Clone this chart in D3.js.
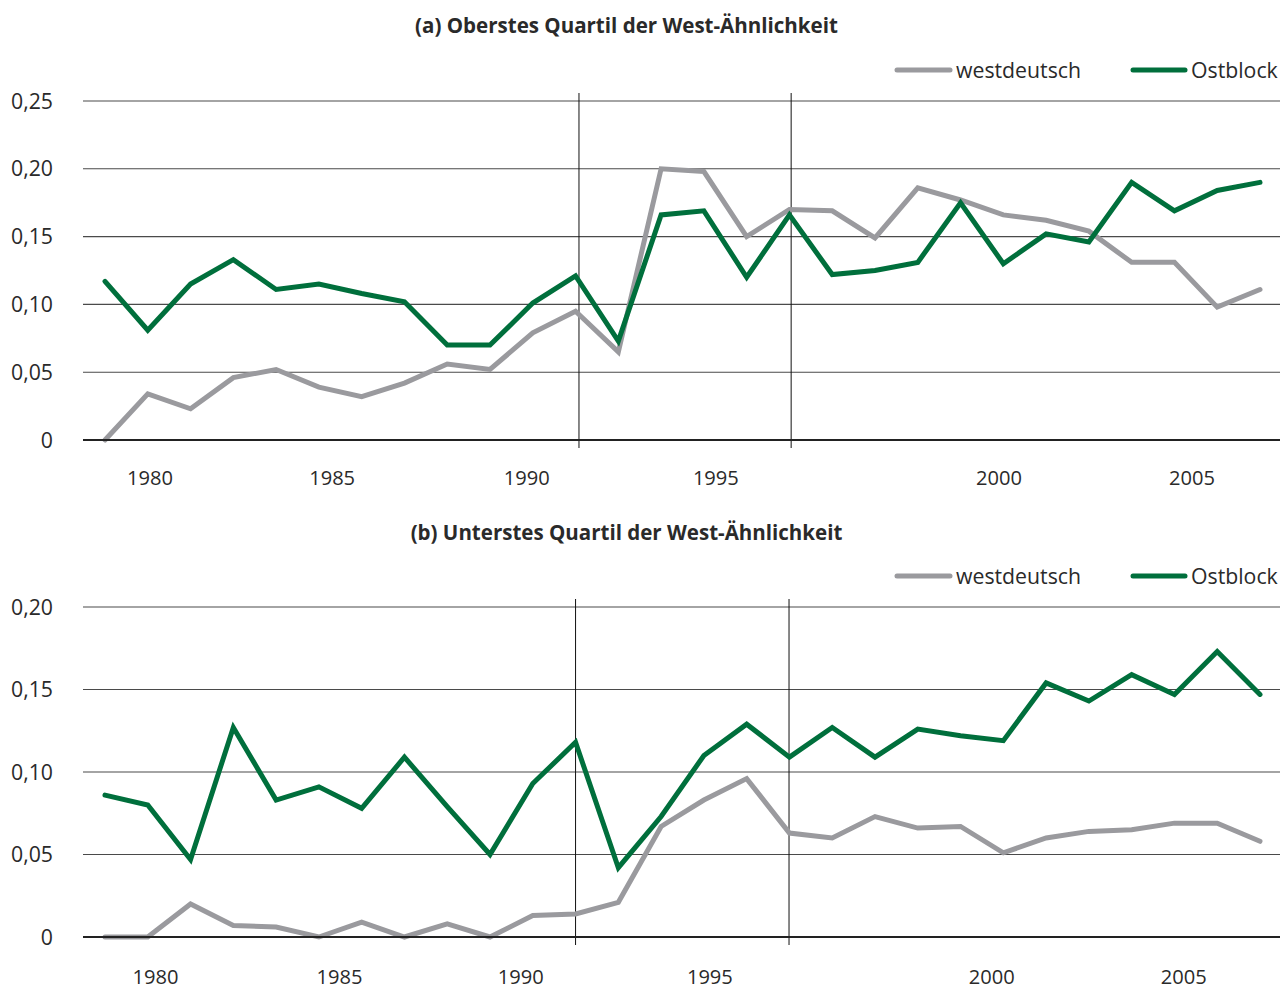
<!DOCTYPE html>
<html>
<head>
<meta charset="utf-8">
<script src="https://cdn.jsdelivr.net/npm/d3@7"></script>
<style>
  html, body { margin: 0; padding: 0; background: #fff; }
  svg { display: block; font-family: "Open Sans", "Noto Sans", sans-serif; }
</style>
</head>
<body>
<svg id="chart" width="1282" height="991"></svg>
<script>
// ---------- data ----------
const seriesNames = ["westdeutsch", "Ostblock"];
const tickLabels = ["1980", "1985", "1990", "1995", "2000", "2005"];

// Panel (a): Oberstes Quartil der West-Ähnlichkeit (28 waves)
const topWest = [0.000, 0.034, 0.023, 0.046, 0.052, 0.039, 0.032, 0.042, 0.056, 0.052,
                 0.079, 0.095, 0.065, 0.200, 0.198, 0.150, 0.170, 0.169, 0.149, 0.186,
                 0.177, 0.166, 0.162, 0.154, 0.131, 0.131, 0.098, 0.111];
const topEast = [0.117, 0.081, 0.115, 0.133, 0.111, 0.115, 0.108, 0.102, 0.070, 0.070,
                 0.101, 0.121, 0.073, 0.166, 0.169, 0.120, 0.166, 0.122, 0.125, 0.131,
                 0.175, 0.130, 0.152, 0.146, 0.190, 0.169, 0.184, 0.190];
// Panel (b): Unterstes Quartil der West-Ähnlichkeit
const botWest = [0.000, 0.000, 0.020, 0.007, 0.006, 0.000, 0.009, 0.000, 0.008, 0.000,
                 0.013, 0.014, 0.021, 0.067, 0.083, 0.096, 0.063, 0.060, 0.073, 0.066,
                 0.067, 0.051, 0.060, 0.064, 0.065, 0.069, 0.069, 0.058];
const botEast = [0.086, 0.080, 0.047, 0.127, 0.083, 0.091, 0.078, 0.109, 0.079, 0.050,
                 0.093, 0.118, 0.042, 0.073, 0.110, 0.129, 0.109, 0.127, 0.109, 0.126,
                 0.122, 0.119, 0.154, 0.143, 0.159, 0.147, 0.173, 0.147];

// tick label and marker-line positions in wave-index units
const topTickPos = [1.05, 5.31, 9.86, 14.28, 20.90, 25.41];
const botTickPos = [1.18, 5.48, 9.72, 14.14, 20.73, 25.22];
const topMarkers = [11.08, 16.04];
const botMarkers = [11.0, 15.99];

const topYTicks = [0, 0.05, 0.10, 0.15, 0.20, 0.25];
const botYTicks = [0, 0.05, 0.10, 0.15, 0.20];

// ---------- drawing ----------
const svg = d3.select("#chart");
const colors = { westdeutsch: "#9a9a9e", Ostblock: "#006f3c" };
const textColor = "#2a2a2a";
const de = d3.formatLocale({ decimal: ",", thousands: ".", grouping: [3], currency: ["", " €"] });
const fmt = d => d === 0 ? "0" : de.format(".2f")(d);

const x = d3.scaleLinear().domain([0, 27]).range([105, 1260]);
const gridX0 = 83, gridX1 = 1280;

// scale a font size so that a reference text gets a given width
function fitSize(text, weight, targetWidth) {
  const t = svg.append("text").attr("font-size", 20).attr("font-weight", weight).text(text);
  const w = t.node().getComputedTextLength();
  t.remove();
  return 20 * targetWidth / w;
}
const labelSize = fitSize("1980", "normal", 46);
const yLabelSize = fitSize("0,25", "normal", 42);
const legendSize = fitSize("westdeutsch", "normal", 125);

function panel(cfg) {
  const g = svg.append("g");
  const y = d3.scaleLinear().domain([0, cfg.yMax]).range([cfg.y0, cfg.y1]);

  // title
  g.append("text").attr("x", 626.5).attr("y", cfg.titleY)
    .attr("text-anchor", "middle").attr("font-weight", "bold")
    .attr("font-size", fitSize(cfg.title, "bold", cfg.titleWidth))
    .attr("fill", textColor).text(cfg.title);

  // gridlines
  g.selectAll("line.grid").data(cfg.yTicks.filter(d => d > 0)).join("line")
    .attr("class", "grid")
    .attr("x1", gridX0).attr("x2", gridX1)
    .attr("y1", d => y(d)).attr("y2", d => y(d))
    .attr("stroke", "#4a4a4a").attr("stroke-width", 1.1);

  // y labels
  g.selectAll("text.yl").data(cfg.yTicks).join("text")
    .attr("class", "yl")
    .attr("x", 53).attr("y", d => y(d)).attr("dy", "0.36em")
    .attr("text-anchor", "end").attr("font-size", yLabelSize).attr("fill", textColor)
    .text(fmt);

  // marker vertical lines
  g.selectAll("line.mk").data(cfg.markers).join("line")
    .attr("class", "mk")
    .attr("x1", d => x(d)).attr("x2", d => x(d))
    .attr("y1", y(cfg.yMax) - 8).attr("y2", y(0) + 8)
    .attr("stroke", "#111").attr("stroke-width", 1);

  // x labels
  g.selectAll("text.xl").data(tickLabels).join("text")
    .attr("class", "xl")
    .attr("x", (d, i) => x(cfg.tickPos[i])).attr("y", y(0) + cfg.labelOffset)
    .attr("text-anchor", "middle").attr("font-size", labelSize).attr("fill", textColor)
    .text(d => d);

  // lines
  const line = d3.line().x((d, i) => x(i)).y(d => y(d)).curve(d3.curveLinear);
  const series = [
    { name: "westdeutsch", values: cfg.west },
    { name: "Ostblock", values: cfg.east }
  ];
  g.selectAll("path.series").data(series).join("path")
    .attr("class", "series")
    .attr("d", d => line(d.values))
    .attr("fill", "none")
    .attr("stroke", d => colors[d.name])
    .attr("stroke-width", 5)
    .attr("stroke-linejoin", "miter")
    .attr("stroke-linecap", "round");

  // baseline (zero axis)
  g.append("line")
    .attr("x1", gridX0).attr("x2", gridX1)
    .attr("y1", y(0)).attr("y2", y(0))
    .attr("stroke", "#222").attr("stroke-width", 2);

  // legend
  const leg = [
    { name: "westdeutsch", x0: 897, x1: 950, tx: 956 },
    { name: "Ostblock", x0: 1133, x1: 1185, tx: 1191 }
  ];
  const lg = g.selectAll("g.leg").data(leg).join("g").attr("class", "leg");
  lg.append("line")
    .attr("x1", d => d.x0).attr("x2", d => d.x1)
    .attr("y1", cfg.legendY).attr("y2", cfg.legendY)
    .attr("stroke", d => colors[d.name]).attr("stroke-width", 5)
    .attr("stroke-linecap", "round");
  lg.append("text")
    .attr("x", d => d.tx).attr("y", cfg.legendY).attr("dy", "0.36em")
    .attr("font-size", legendSize).attr("fill", textColor)
    .text(d => d.name);
}

panel({
  title: "(a) Oberstes Quartil der West-Ähnlichkeit", titleWidth: 423,
  titleY: 33, legendY: 70, labelOffset: 45,
  y0: 440, y1: 101, yMax: 0.25, yTicks: topYTicks,
  west: topWest, east: topEast,
  tickPos: topTickPos, markers: topMarkers
});
panel({
  title: "(b) Unterstes Quartil der West-Ähnlichkeit", titleWidth: 432,
  titleY: 540, legendY: 576, labelOffset: 47,
  y0: 937, y1: 607, yMax: 0.20, yTicks: botYTicks,
  west: botWest, east: botEast,
  tickPos: botTickPos, markers: botMarkers
});
</script>
</body>
</html>
